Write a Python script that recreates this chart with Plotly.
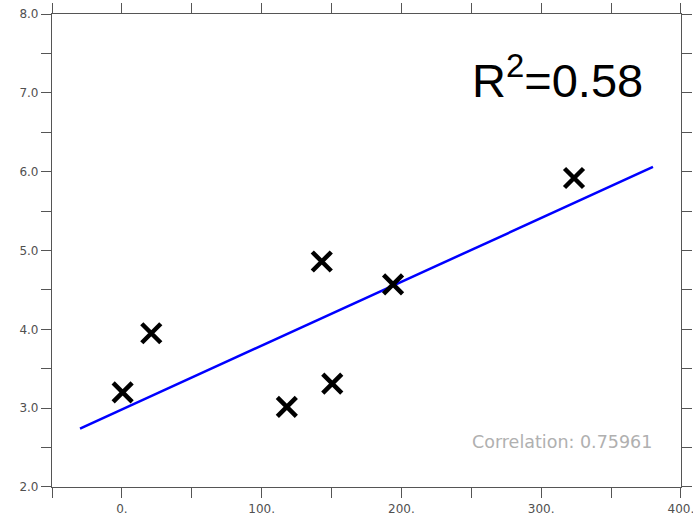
import plotly.graph_objects as go

# Data
x_vals = [0.5, 21.0, 118.0, 143.0, 150.5, 194.0, 323.5]
y_vals = [3.20, 3.95, 3.015, 4.86, 3.31, 4.57, 5.92]

line_x = [-30.0, 380.0]
line_y = [2.74, 6.06]

x_ticks = [-50, 0, 50, 100, 150, 200, 250, 300, 350, 400]
x_ticklabels = ["", "0.", "", "100.", "", "200.", "", "300.", "", "400."]
y_ticks = [2.0, 2.5, 3.0, 3.5, 4.0, 4.5, 5.0, 5.5, 6.0, 6.5, 7.0, 7.5, 8.0]
y_ticklabels = ["2.0", "", "3.0", "", "4.0", "", "5.0", "", "6.0", "", "7.0", "", "8.0"]

r2_text = "R<sup>2</sup>=0.58"
corr_text = "Correlation: 0.75961"

fig = go.Figure()
fig.add_trace(go.Scatter(x=line_x, y=line_y, mode="lines",
                         line=dict(color="#0000ff", width=2.5), hoverinfo="skip"))
fig.add_trace(go.Scatter(x=x_vals, y=y_vals, mode="markers",
                         marker=dict(symbol="x-thin", size=19,
                                     line=dict(color="black", width=4.5),
                                     color="black")))

axis_common = dict(showline=True, linecolor="#555555", linewidth=1.2,
                   mirror="ticks", ticks="outside", ticklen=10, tickwidth=1,
                   tickcolor="#555555", showgrid=False, zeroline=False,
                   automargin=False, ticklabeloverflow="allow",
                   tickfont=dict(family="DejaVu Sans", size=12, color="#505050"))

fig.update_xaxes(range=[-50.05, 400.05], tickmode="array", tickvals=x_ticks,
                 ticktext=x_ticklabels, **axis_common)
fig.update_yaxes(range=[1.999, 8.001], tickmode="array", tickvals=y_ticks,
                 ticktext=y_ticklabels, **axis_common)

fig.add_annotation(x=312, y=7.2, xref="x", yref="y", text=r2_text, showarrow=False,
                   font=dict(family="Liberation Sans", size=47, color="black"))
fig.add_annotation(x=315, y=2.574, xref="x", yref="y", text=corr_text, showarrow=False,
                   font=dict(family="DejaVu Sans", size=17.5, color="#b0b0b0"))

fig.update_layout(width=693, height=516, showlegend=False,
                  margin=dict(l=52, r=12, t=14, b=29),
                  plot_bgcolor="white", paper_bgcolor="white")

fig.write_html("out.html", config={"displayModeBar": False},
               post_script="document.body.style.margin='0';document.body.style.overflow='hidden';")
